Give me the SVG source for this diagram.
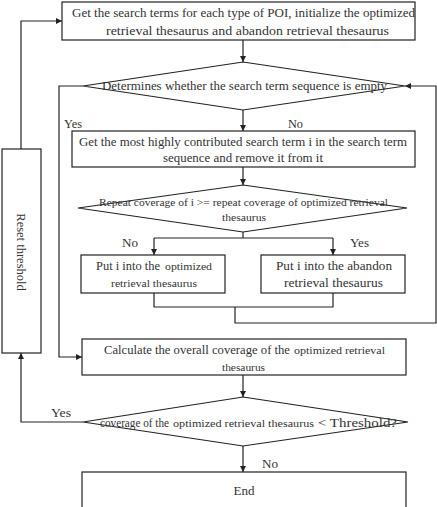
<svg xmlns="http://www.w3.org/2000/svg" width="437" height="507" viewBox="0 0 437 507">
<style>
.box{fill:#fff;stroke:#222;stroke-width:1.2}
.ln{fill:none;stroke:#222;stroke-width:1.2}
text{font-family:"Liberation Serif","Times New Roman",serif;fill:#333;font-size:12.5px}
.s{font-size:11px}
</style>
<defs>
<marker id="ah" viewBox="0 0 10 10" refX="10" refY="5" markerWidth="6" markerHeight="6" orient="auto" markerUnits="userSpaceOnUse">
<path d="M0,0 L10,5 L0,10 z" fill="#222"/>
</marker>
</defs>
<rect width="437" height="507" fill="#fff"/>

<g id="connectors">
<path class="ln" d="M243,40 V62" marker-end="url(#ah)"/>
<path class="ln" d="M243,110 V131" marker-end="url(#ah)"/>
<path class="ln" d="M243,167 V185" marker-end="url(#ah)"/>
<path class="ln" d="M243,232 V238 M154,238 H333"/>
<path class="ln" d="M154,238 V255" marker-end="url(#ah)"/>
<path class="ln" d="M333,238 V255" marker-end="url(#ah)"/>
<path class="ln" d="M154,293 V307 H333 V293 M235,307 V323 H436 V86 H405" marker-end="url(#ah)"/>
<path class="ln" d="M83,86 H59 V357 H82" marker-end="url(#ah)"/>
<path class="ln" d="M243,375 V397" marker-end="url(#ah)"/>
<path class="ln" d="M243,446 V472" marker-end="url(#ah)"/>
<path class="ln" d="M83,422 H21 V353" marker-end="url(#ah)"/>
<path class="ln" d="M21,149 V21 H62" marker-end="url(#ah)"/>
<text x="64" y="128" textLength="18" lengthAdjust="spacingAndGlyphs">Yes</text>
<text x="288" y="128" textLength="15" lengthAdjust="spacingAndGlyphs">No</text>
<text x="122" y="247" textLength="16" lengthAdjust="spacingAndGlyphs">No</text>
<text x="350" y="247" textLength="19" lengthAdjust="spacingAndGlyphs">Yes</text>
<text x="51" y="417" textLength="20" lengthAdjust="spacingAndGlyphs">Yes</text>
<text x="262" y="468" textLength="16" lengthAdjust="spacingAndGlyphs">No</text>
</g>

<g id="start">
<rect class="box" x="62" y="2" width="353" height="38"/>
<text x="72" y="17" textLength="343" lengthAdjust="spacingAndGlyphs">Get the search terms for each type of POI, initialize the optimized</text>
<text x="106" y="35" textLength="283" lengthAdjust="spacingAndGlyphs">retrieval thesaurus and abandon retrieval thesaurus</text>
</g>

<g id="empty-check">
<polygon class="box" points="243,62 405,86 243,110 83,86"/>
<text x="102" y="90" textLength="285" lengthAdjust="spacingAndGlyphs">Determines whether the search term sequence is empty</text>
</g>

<g id="get-term">
<rect class="box" x="72" y="131" width="343" height="36"/>
<text x="79" y="146" textLength="328" lengthAdjust="spacingAndGlyphs">Get the most highly contributed search term i in the search term</text>
<text x="163" y="162" textLength="160" lengthAdjust="spacingAndGlyphs">sequence and remove it from it</text>
</g>

<g id="repeat-check">
<polygon class="box" points="243,185 407,208 243,232 78,208"/>
<text x="99" y="206" class="s" textLength="289" lengthAdjust="spacingAndGlyphs">Repeat coverage of i &gt;= repeat coverage of optimized retrieval</text>
<text x="222" y="221" class="s" textLength="44" lengthAdjust="spacingAndGlyphs">thesaurus</text>
</g>

<g id="put-optimized">
<rect class="box" x="81" y="255" width="144" height="38"/>
<text x="96" y="270" textLength="64" lengthAdjust="spacingAndGlyphs">Put i into the</text>
<text x="165" y="270" class="s" textLength="47" lengthAdjust="spacingAndGlyphs">optimized</text>
<text x="111" y="287" class="s" textLength="86" lengthAdjust="spacingAndGlyphs">retrieval thesaurus</text>
</g>

<g id="put-abandon">
<rect class="box" x="261" y="255" width="144" height="38"/>
<text x="276" y="270" textLength="116" lengthAdjust="spacingAndGlyphs">Put i into the abandon</text>
<text x="284" y="287" textLength="99" lengthAdjust="spacingAndGlyphs">retrieval thesaurus</text>
</g>

<g id="calculate">
<rect class="box" x="82" y="339" width="324" height="36"/>
<text x="104" y="354" textLength="186" lengthAdjust="spacingAndGlyphs">Calculate the overall coverage of the</text>
<text x="294" y="354" class="s" textLength="91" lengthAdjust="spacingAndGlyphs">optimized retrieval</text>
<text x="222" y="371" class="s" textLength="43" lengthAdjust="spacingAndGlyphs">thesaurus</text>
</g>

<g id="threshold-check">
<polygon class="box" points="243,397 408,422 243,446 83,422"/>
<text x="100" y="427" textLength="69" lengthAdjust="spacingAndGlyphs">coverage of the</text>
<text x="173" y="427" class="s" textLength="141" lengthAdjust="spacingAndGlyphs">optimized retrieval thesaurus</text>
<text x="318" y="427" font-size="13" textLength="79" lengthAdjust="spacingAndGlyphs">&lt; Threshold?</text>
</g>

<g id="reset">
<rect class="box" x="2" y="149" width="39" height="204"/>
<text transform="translate(17,252) rotate(90)" text-anchor="middle" font-size="13">Reset threshold</text>
</g>

<g id="end">
<rect class="box" x="82" y="472" width="324" height="45"/>
<text x="244" y="495" text-anchor="middle" textLength="21" lengthAdjust="spacingAndGlyphs">End</text>
</g>
</svg>
